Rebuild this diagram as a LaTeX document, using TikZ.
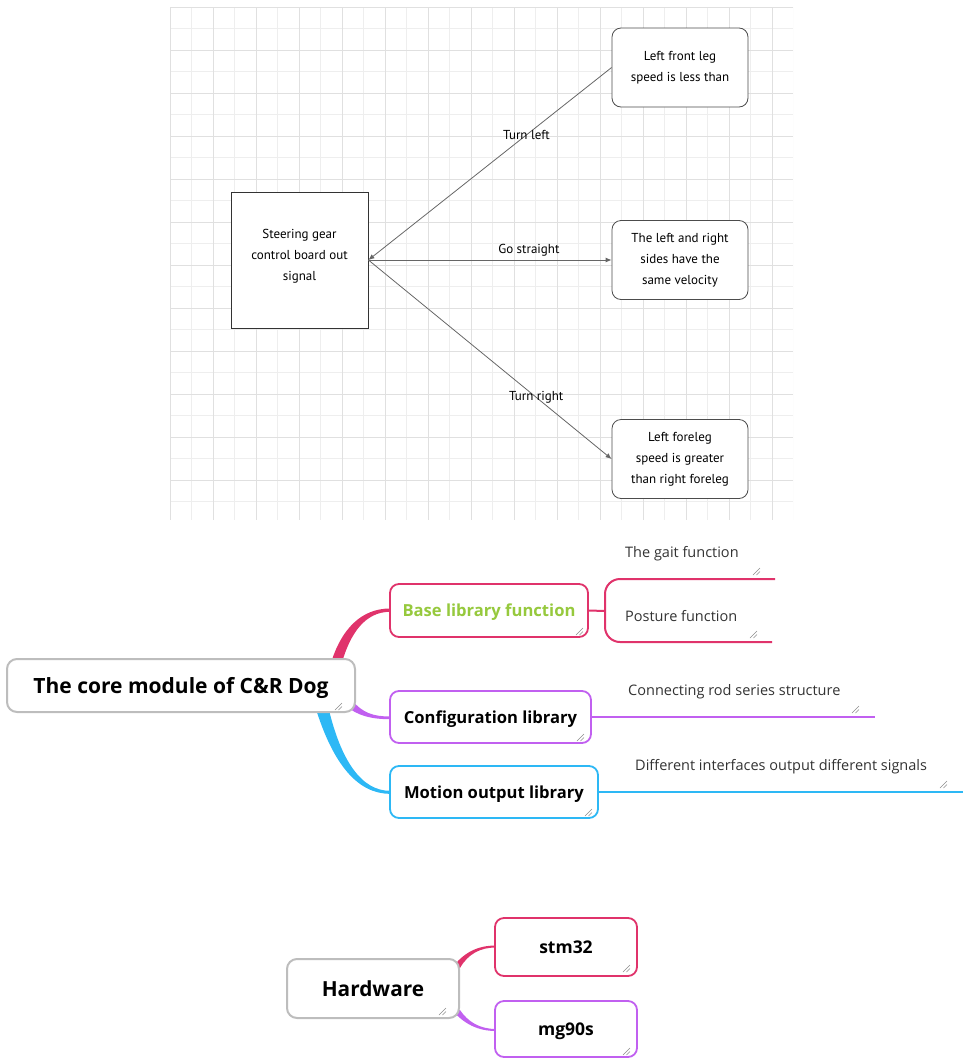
\documentclass[tikz,border=0pt]{standalone}
\usepackage{fontspec}
\setmainfont{Open Sans}
\newfontfamily\ptsans{PT Sans}
\usetikzlibrary{arrows.meta}
\definecolor{crim}{HTML}{E0336B}
\definecolor{purp}{HTML}{C160F0}
\definecolor{cyanc}{HTML}{2DB8F5}
\definecolor{greent}{HTML}{96C93D}
\definecolor{grayb}{HTML}{BDBDBD}
\definecolor{gridmin}{HTML}{EEEEEE}
\definecolor{gridmaj}{HTML}{E0E0E0}
\definecolor{subtxt}{HTML}{333333}
\tikzset{
  gridminor/.style={draw=gridmin, line width=0.8},
  gridmajor/.style={draw=gridmaj, line width=1},
  flowfont/.style={font=\ptsans\fontsize{13}{21}\selectfont},
  flowbox/.style={draw=black!70, line width=0.8, rounded corners=9, fill=white,
    minimum width=136, minimum height=79, inner sep=0, align=center, flowfont},
  srcbox/.style={draw=black!80, line width=0.8, fill=white, minimum width=137, minimum height=136, inner sep=0},
  flowarrow/.style={draw=black!60, line width=0.8, -{Latex[length=6,width=5]}},
  flowlabel/.style={flowfont, inner sep=1},
  mmbox/.style={draw=#1, line width=1.8, rounded corners=9, fill=white, inner sep=0, text depth=0pt,
    font=\bfseries\fontsize{16.6}{20}\selectfont},
  rootbox/.style={draw=grayb, line width=2, rounded corners=10, fill=white, inner sep=0, text depth=0pt,
    font=\bfseries\fontsize{21}{24}\selectfont},
  subtext/.style={text=subtxt, inner sep=0, anchor=west, font=\fontsize{14.5}{17}\selectfont},
  grip/.pic={\draw[black!45, line width=0.5] (-7,0)--(0,-7) (-3.5,0)--(0,-3.5);},
}
\begin{document}
\begin{tikzpicture}[x=1pt, y=-1pt]
\useasboundingbox (0,0) rectangle (965,1058);
% grid
\begin{scope}
\clip (170,7) rectangle (793,520);
\foreach \i in {1,3,...,29} {\draw[gridminor] ({170+21.5*\i},7) -- ({170+21.5*\i},520);}
\foreach \j in {1,3,...,23} {\draw[gridminor] (170,{7+21.5*\j}) -- (793,{7+21.5*\j});}
\foreach \i in {0,2,...,28} {\draw[gridmajor] ({170+21.5*\i},7) -- ({170+21.5*\i},520);}
\foreach \j in {0,2,...,24} {\draw[gridmajor] (170,{7+21.5*\j}) -- (793,{7+21.5*\j});}
\end{scope}
% flow diagram
\node[srcbox, label={[flowlabel, align=center, yshift=4pt]center:{Steering gear\\control board out\\signal}}] (src) at (299.5,260) {};
\node[flowbox] (tl) at (680,67.5) {Left front leg\\speed is less than};
\node[flowbox] (st) at (680,260) {The left and right\\sides have the\\same velocity};
\node[flowbox] (tr) at (680,459) {Left foreleg\\speed is greater\\than right foreleg};
\draw[flowarrow] (tl.west) -- node[flowlabel, pos=0.35] {Turn left} (src.east);
\draw[flowarrow] (src.east) -- node[flowlabel, above=2pt, pos=0.66] {Go straight} (st.west);
\draw[flowarrow] (src.east) -- node[flowlabel, pos=0.69] {Turn right} (tr.west);
% mind map 1 connectors
\fill[crim] (330,666) .. controls (341,628) and (362,608.5) .. (390,608.5) -- (390,611.8) .. controls (366,611.8) and (350,632) .. (341,666) -- cycle;
\fill[purp] (346,706) .. controls (358,716) and (372,719.2) .. (390,719.2) -- (390,716.5) .. controls (374,716.5) and (362,713) .. (352,700) -- cycle;
\fill[cyanc] (315,706) .. controls (333,765) and (358,793.8) .. (390,793.8) -- (390,790.8) .. controls (362,790.8) and (341,762) .. (328,706) -- cycle;
% mind map 1 nodes
\node[rootbox, minimum width=348, minimum height=53] (root) at (181,685.5) {The core module of C\&R Dog};
\node[mmbox=crim, text=greent, minimum width=198, minimum height=53] (base) at (489,610.5) {Base library function};
\node[mmbox=purp, minimum width=201, minimum height=52] (conf) at (490.5,717) {Configuration library};
\node[mmbox=cyanc, minimum width=208, minimum height=52] (motion) at (494,792) {Motion output library};
\coordinate (br) at (605,611);
\coordinate (gaitend) at (775,579);
\coordinate (postend) at (772,642);
\coordinate (confend) at (875,717);
\coordinate (motend) at (963,792);
\draw[crim, line width=2] (base.east) -- (br);
\draw[crim, line width=2, rounded corners=15] (gaitend) -- (br |- gaitend) -- (br |- postend) -- (postend);
\draw[purp, line width=2] (conf.east) -- (confend);
\draw[cyanc, line width=2] (motion.east) -- (motend);
\node[subtext] (gait) at (625,554) {The gait function};
\node[subtext] (post) at (625,616) {Posture function};
\node[subtext] (rod) at (628,692) {Connecting rod series structure};
\node[subtext] (diff) at (635,767) {Different interfaces output different signals};
\pic at (342,710) {grip};
\pic at (583,635) {grip};
\pic at (584,741) {grip};
\pic at (592,816) {grip};
\pic at (760,575) {grip};
\pic at (757,638) {grip};
\pic at (859,713) {grip};
\pic at (947,788) {grip};
% hardware
\fill[crim] (452,968) .. controls (464,952) and (478,945.5) .. (496,945.5) -- (496,947.5) .. controls (480,947.5) and (468,954) .. (460,968) -- cycle;
\fill[purp] (452,1010) .. controls (464,1024) and (478,1031) .. (496,1031) -- (496,1029) .. controls (480,1029) and (468,1022) .. (460,1010) -- cycle;
\node[rootbox, font=\bfseries\fontsize{20.8}{24}\selectfont, minimum width=172, minimum height=59] (hw) at (373,988.5) {Hardware};
\node[mmbox=crim, font=\bfseries\fontsize{17.5}{20}\selectfont, minimum width=142, minimum height=58] (stm) at (566,947) {stm32};
\node[mmbox=purp, font=\bfseries\fontsize{17.5}{20}\selectfont, minimum width=142, minimum height=56] (mg) at (566,1029) {mg90s};
\pic at (446,1015) {grip};
\pic at (630,972) {grip};
\pic at (630,1055) {grip};
\end{tikzpicture}
\end{document}
